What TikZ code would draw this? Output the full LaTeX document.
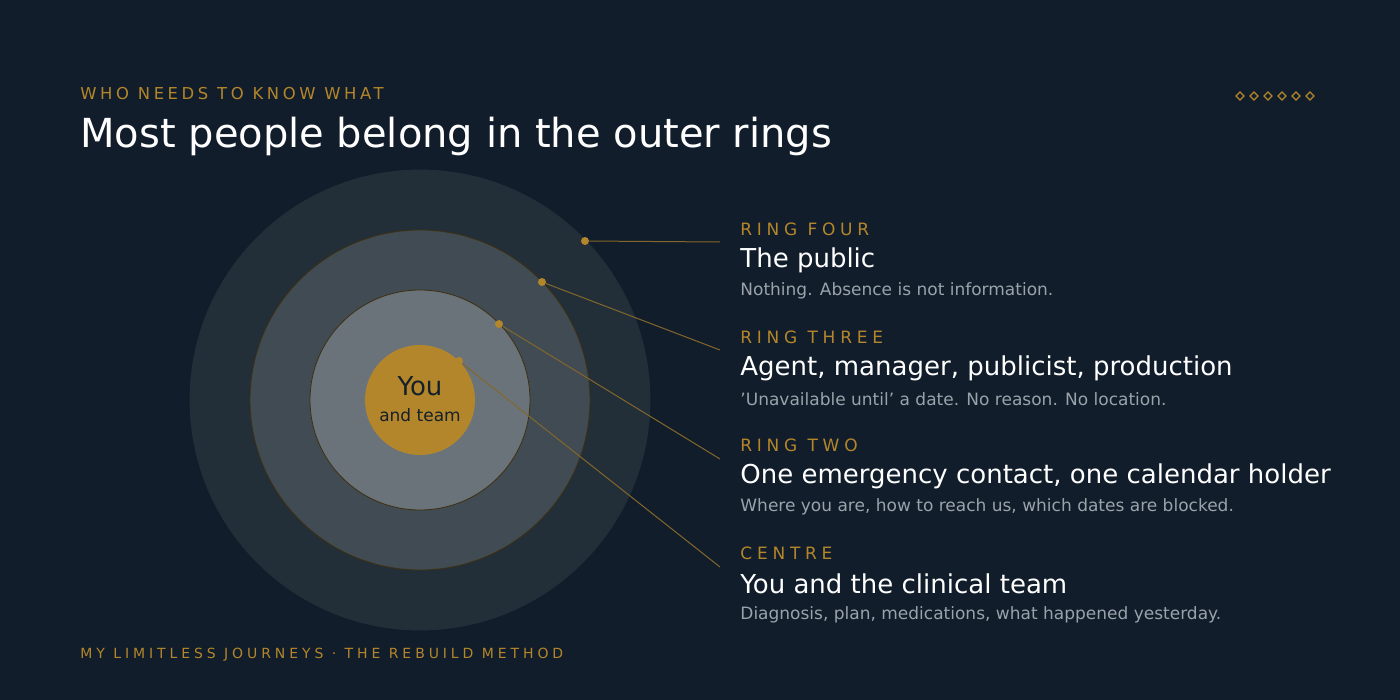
\documentclass[tikz,border=0pt]{standalone}
\usetikzlibrary{shapes.geometric}
\usepackage{fontspec}
\setmainfont{DejaVu Sans}
\newfontfamily\spaced[LetterSpace=22]{DejaVu Sans}
\newfontfamily\spacedb[LetterSpace=28]{DejaVu Sans}
\definecolor{bg}{HTML}{111D2A}
\definecolor{gold}{HTML}{B4862B}
\definecolor{ringa}{HTML}{222E38}
\definecolor{ringb}{HTML}{404B53}
\definecolor{ringc}{HTML}{6A737A}
\definecolor{desc}{HTML}{9AA3AB}
\definecolor{dark}{HTML}{15202B}
\begin{document}
\begin{tikzpicture}[x=0.5pt,y=-0.5pt,
  ring/.style={circle,inner sep=0,draw=gold!35!black,line width=0.4pt},
  dot/.style={circle,fill=gold,inner sep=0,minimum size=4pt},
  conn/.style={draw=gold!70!bg,line width=0.5pt},
  kicker/.style={anchor=west,text=gold,font=\spacedb\fontsize{8.5}{10}\selectfont,inner sep=0},
  head/.style={anchor=west,text=white,font=\fontsize{13}{15}\selectfont,inner sep=0},
  sub/.style={anchor=west,text=desc,font=\fontsize{8.5}{10}\selectfont,inner sep=0},
  dia/.style={diamond,draw=gold,line width=0.6pt,inner sep=0,minimum size=4.2pt}]
\fill[bg] (0,0) rectangle (1400,700);
\useasboundingbox (0,0) rectangle (1400,700);
\node[ring,fill=ringa,minimum size=230pt,draw=ringa] (r4) at (420,400) {};
\node[ring,fill=ringb,minimum size=170pt] (r3) at (420,400) {};
\node[ring,fill=ringc,minimum size=110pt] (r2) at (420,400) {};
\node[ring,fill=gold,minimum size=55pt,draw=none] (r1) at (420,400) {};
\node[text=dark,font=\fontsize{13}{15}\selectfont] (you) at (420,386) {You};
\node[text=dark,font=\fontsize{8.5}{10}\selectfont] (team) at (420,415) {and team};
% text blocks
\node[kicker] (k4) at (740,229) {RING FOUR};
\node[head] (h4) at (740,260) {The public};
\node[sub] (s4) at (740,291) {Nothing. Absence is not information.};
\node[kicker] (k3) at (740,337) {RING THREE};
\node[head] (h3) at (740,368) {Agent, manager, publicist, production};
\node[sub] (s3) at (740,399) {'Unavailable until' a date. No reason. No location.};
\node[kicker] (k2) at (740,445) {RING TWO};
\node[head] (h2) at (740,476) {One emergency contact, one calendar holder};
\node[sub] (s2) at (740,507) {Where you are, how to reach us, which dates are blocked.};
\node[kicker] (k1) at (740,553) {CENTRE};
\node[head] (h1) at (740,584) {You and the clinical team};
\node[sub] (s1) at (740,615) {Diagnosis, plan, medications, what happened yesterday.};
% connectors
\coordinate (e4) at (720,242);
\coordinate (e3) at (720,350);
\coordinate (e2) at (720,459);
\coordinate (e1) at (720,567);
\node[dot] (d4) at (585,241) {};
\node[dot] (d3) at (542,282) {};
\node[dot] (d2) at (499,324) {};
\node[dot] (d1) at (459,361) {};
\draw[conn] (d4) -- (e4);
\draw[conn] (d3) -- (e3);
\draw[conn] (d2) -- (e2);
\draw[conn] (d1) -- (e1);
% header
\node[anchor=west,inner sep=0,text=gold,font=\spaced\fontsize{8.2}{10}\selectfont] (kick) at (80,94) {WHO NEEDS TO KNOW WHAT};
\node[anchor=west,inner sep=0,text=white,font=\fontsize{20}{24}\selectfont] (title) at (80,136) {Most people belong in the outer rings};
\node[anchor=west,inner sep=0,text=gold,font=\spacedb\fontsize{7}{9}\selectfont] (foot) at (80,655) {MY LIMITLESS JOURNEYS · THE REBUILD METHOD};
\foreach \i in {0,...,5} \node[dia] (dm\i) at (1240+\i*14,96) {};
\end{tikzpicture}
\end{document}
